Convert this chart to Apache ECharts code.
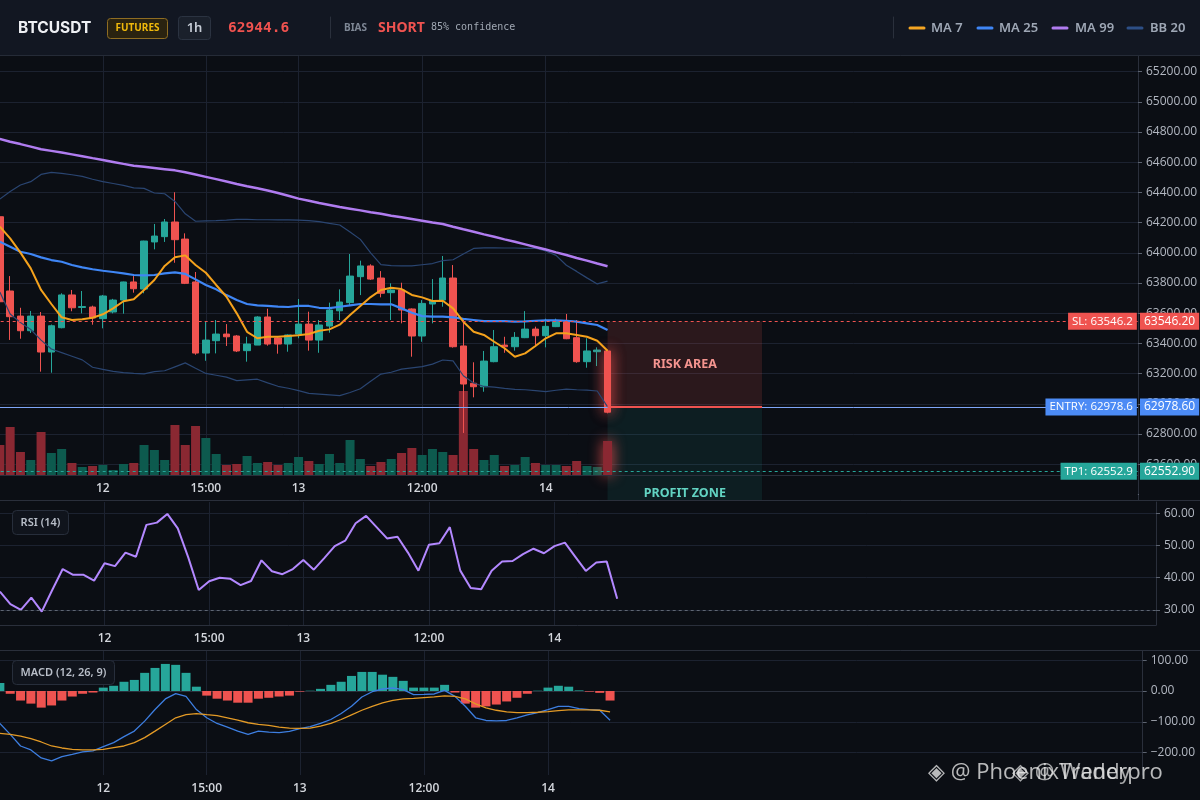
<!DOCTYPE html>
<html><head><meta charset="utf-8">
<script src="https://cdn.jsdelivr.net/npm/echarts@6/dist/echarts.min.js"></script>
<style>html,body{margin:0;padding:0;background:#0b0e14;overflow:hidden}#c{width:1200px;height:800px}</style>
</head><body><div id="c"></div>
<script>
// ---------- header info ----------
const tickerName = 'BTCUSDT';
const marketType = 'FUTURES';
const timeframe = '1h';
const lastPrice = 62944.6;
const biasSide = 'SHORT';
const biasConfidence = 85;

// ---------- x axis ----------
const slotCount = 111;               // visible hourly slots (60 candles + empty right space)
const xTickIndex = [10, 20, 29, 41, 53];
const xTickText = ['12', '15:00', '13', '12:00', '14'];

// ---------- candles ----------
const open  = [64239,63747,63581,63484,63581,63343,63504,63721,63638,63641,63564,63608,63687,63807,63760,64072,64107,64204,64091,63807,63336,63418,63462,63449,63352,63389,63575,63436,63396,63462,63528,63422,63515,63616,63670,63842,63913,63833,63736,63754,63628,63449,63661,63687,63833,63383,63136,63113,63279,63389,63378,63438,63495,63451,63511,63544,63438,63279,63345,63350];
const close = [63676,63577,63484,63581,63343,63517,63721,63636,63644,63568,63714,63687,63807,63762,64078,64111,64204,64087,63798,63336,63422,63462,63444,63350,63396,63575,63396,63396,63456,63528,63422,63522,63621,63674,63846,63913,63826,63732,63754,63621,63449,63665,63683,63833,63378,63131,63113,63283,63378,63378,63440,63495,63451,63513,63544,63431,63279,63350,63356,62944.6];
const low   = [63640,63423,63431,63469,63213,63206,63500,63613,63599,63524,63500,63599,63597,63736,63732,64023,64072,63934,63793,63325,63285,63334,63383,63343,63279,63389,63385,63332,63345,63434,63352,63338,63471,63555,63654,63720,63820,63705,63555,63533,63312,63411,63533,63643,63372,62807,63043,63080,63275,63338,63352,63435,63378,63374,63508,63428,63272,63239,63250,62937];
const high  = [64280,63846,63636,63615,63608,63525,63732,63754,63747,63650,63721,63695,63809,63846,64080,64191,64224,64401,64129,63873,63548,63555,63528,63455,63444,63580,63630,63440,63460,63694,63610,63555,63670,63758,63992,63948,63924,63879,63798,63802,63632,63687,63826,63979,63919,63555,63275,63350,63489,63444,63475,63614,63511,63564,63564,63595,63555,63434,63374,63357];
const volume = [30,48,23,15,43,22,26,12,8,9,10,5,11,12,30,25,15,50,30,49,37,21,10,11,19,12,13,10,12,18,14,11,21,12,35,16,9,13,16,22,27,20,26,23,20,84,26,15,20,9,10,18,12,10,10,9,14,9,8,34];

// ---------- overlays ----------
const ma7  = [64173,64096,64001,63897,63754,63661,63573,63555,63560,63570,63593,63632,63679,63692,63754,63820,63913,63970,63983,63919,63868,63787,63709,63599,63477,63434,63444,63444,63449,63454,63462,63484,63493,63524,63588,63648,63707,63754,63769,63760,63721,63705,63681,63683,63632,63544,63477,63456,63411,63368,63312,63334,63383,63434,63467,63467,63456,63444,63418,63352];
const ma25 = [64073,64040,64007,63992,63970,63952,63941,63919,63904,63891,63881,63873,63864,63853,63851,63853,63864,63871,63860,63824,63787,63758,63720,63687,63661,63652,63648,63643,63641,63648,63648,63636,63634,63643,63652,63661,63661,63659,63659,63632,63603,63581,63577,63577,63573,63562,63555,63548,63548,63548,63544,63546,63550,63553,63553,63550,63544,63533,63522,63489];
const ma99 = [64754,64736,64720,64703,64686,64675,64664,64652,64640,64627,64615,64602,64589,64577,64570,64562,64554,64546,64533,64518,64503,64488,64472,64456,64441,64427,64413,64396,64378,64359,64345,64330,64317,64303,64292,64281,64269,64258,64246,64235,64224,64213,64201,64191,64173,64156,64140,64122,64106,64089,64073,64056,64039,64022,64003,63985,63966,63948,63929,63911];
const bbUpper = [64356,64406,64449,64471,64519,64533,64526,64517,64506,64487,64471,64459,64447,64430,64427,64396,64391,64340,64258,64209,64211,64213,64217,64222,64221,64219,64219,64218,64218,64217,64213,64207,64195,64184,64138,64089,63999,63922,63915,63913,63913,63921,63929,63948,63954,63992,64029,64033,64033,64032,64032,64030,64030,64012,63983,63918,63877,63834,63794,63813];
const bbLower = [63740,63595,63538,63492,63422,63363,63339,63315,63291,63242,63228,63215,63207,63201,63198,63213,63219,63245,63271,63235,63201,63189,63177,63154,63159,63163,63139,63116,63103,63087,63069,63064,63059,63054,63075,63100,63150,63197,63209,63230,63238,63246,63263,63290,63284,63186,63138,63115,63110,63102,63096,63093,63087,63081,63090,63097,63093,63091,63085,62980];

// ---------- trade levels ----------
const stopLoss = 63546.2;
const entryPrice = 62978.6;
const takeProfit1 = 62552.9;
const zoneFromSlot = 59;
const zoneToSlot = 74;

// ---------- RSI ----------
const rsi = [35.7,31.8,30.0,33.8,29.5,36.2,42.7,40.9,40.9,39.1,44.5,43.6,47.8,46.5,56.4,57.1,59.8,55.3,46.3,36.2,38.9,40.0,39.7,37.7,39.0,45.4,42.0,41.1,42.7,45.5,42.5,46.1,49.8,51.5,56.9,59.2,55.7,52.2,52.7,47.8,42.2,50.2,50.7,55.7,42.2,36.8,36.4,42.2,45.0,45.2,47.3,49.0,47.6,49.8,50.9,46.5,42.1,44.7,45.0,33.5];
const rsiOversold = 30;

// ---------- MACD ----------
const macdLine = [-105.5,-141,-178.7,-191.6,-217.4,-227,-213,-205.6,-198,-194.8,-180.7,-167.8,-148.4,-130.3,-98,-60.3,-25.8,-8.7,-17.4,-60.3,-87.1,-105.5,-117.4,-130.3,-141,-130.3,-133.5,-135.5,-131.3,-122.6,-116.1,-105.5,-92.6,-73.2,-49.7,-19.4,-2.3,6.5,9.7,4.2,-11.9,-11,-9.7,1.9,-17.4,-49.7,-87.1,-95.8,-96.8,-95.8,-87.1,-77.4,-70,-60.3,-49.7,-49.7,-57.1,-60.3,-62.6,-94.8];
const macdSignal = [-137.8,-141,-146.4,-154.9,-165.7,-178.7,-185.2,-189.4,-191.6,-191.6,-189.4,-183.9,-178.7,-167.8,-151.6,-130.3,-108.7,-87.1,-76.5,-73.2,-76.5,-79.7,-87.1,-94.8,-103.2,-108.7,-111.9,-117.4,-120.6,-121.6,-120.6,-114.2,-105.5,-92.6,-77.4,-62.6,-49.7,-38.7,-30.3,-25.8,-23.9,-21.6,-19.4,-16.1,-17.4,-25.8,-41.9,-54.8,-62.6,-67.7,-70,-70,-69,-66.8,-63.5,-61.3,-61.3,-61.3,-62.6,-67.7];
const macdHist = [26,-9,-31,-41,-54,-47,-31,-18,-9,-5,11,17,30,36,59,75,88,85,59,14,-15,-25,-31,-38,-38,-25,-22,-18,-15,-2,1,7,20,30,49,62,62,53,46,33,11,11,11,20,-5,-41,-54,-50,-44,-34,-22,-9,1,11,17,14,2,-2,-6,-31];

// ---------- styling ----------
const BG = '#0b0e14', GRID = '#1c2230', BORDER = '#2a2f3b';
const UP = '#26a69a', DOWN = '#ef5350';
const FONT = 'Open Sans';

const cats = Array.from({length: slotCount}, (_, i) => String(i));
const tickLabel = {};
xTickIndex.forEach((idx, k) => { tickLabel[idx] = xTickText[k]; });
const isTick = (i) => tickLabel[i] !== undefined;
const lastIdx = open.length - 1;
const glow = {shadowBlur: 14, shadowColor: 'rgba(239,83,80,0.95)'};

const candleData = open.map((o, i) => {
  const it = {value: [o, close[i], low[i], high[i]]};
  if (i === lastIdx) it.itemStyle = glow;
  return it;
});
const volumeData = volume.map((v, i) => ({
  value: v,
  itemStyle: Object.assign({color: close[i] >= open[i] ? '#0d5a4e' : '#8a2832'}, i === lastIdx ? glow : {})
}));
const histData = macdHist.map(v => ({value: v, itemStyle: {color: v >= 0 ? UP : DOWN}}));

const vSplit = {show: true, interval: (i) => isTick(i), alignWithLabel: true, lineStyle: {color: GRID, width: 1}};
const xLabels = {show: true, interval: 0, formatter: (v, i) => tickLabel[i] || '', color: '#d3d6dc', fontSize: 12, fontWeight: 600, fontFamily: FONT, margin: 8};
function catAxis(gridIndex, extra) {
  return Object.assign({type: 'category', gridIndex, data: cats, boundaryGap: true,
    axisTick: {show: false}, axisLine: {show: false}, axisLabel: {show: false}, splitLine: {show: false}}, extra);
}
const yLabelBase = {color: '#b3b8c2', fontSize: 12, fontFamily: FONT, margin: 8, showMinLabel: false, showMaxLabel: false};
const yTick = {show: true, length: 4, lineStyle: {color: '#5c6370'}};
const yLine = {show: true, lineStyle: {color: BORDER}};
const hSplit = {show: true, showMinLine: false, showMaxLine: false, lineStyle: {color: GRID, width: 1}};

const LEFT = -5.3;
const gridBase = {containLabel: false, outerBoundsMode: 'none'};
const grids = [
  Object.assign({left: LEFT, right: 62, top: 55, bottom: 300}, gridBase),     // price
  Object.assign({left: LEFT, right: 62, top: 55, bottom: 325}, gridBase),     // volume + time labels
  Object.assign({left: LEFT, right: 44, top: 502, bottom: 175}, gridBase),    // RSI
  Object.assign({left: LEFT, right: 57.3, top: 651, bottom: 25}, gridBase)    // MACD
];

function lineSeries(name, data, color, width, extra) {
  return Object.assign({name, type: 'line', xAxisIndex: 0, yAxisIndex: 0, data, symbol: 'none',
    lineStyle: {color, width}, itemStyle: {color}, silent: true, z: 3}, extra || {});
}

function t(text, x, y, font, fill, align) {
  return {type: 'text', x, y, z: 12, silent: true,
    style: {text, font, fill, textAlign: align || 'left', textVerticalAlign: 'middle', align: align || 'left', verticalAlign: 'middle'}};
}
function seg(x1, y1, x2, y2, stroke, w, z) {
  return {type: 'line', z: z || 12, silent: true, shape: {x1, y1, x2, y2}, style: {stroke, lineWidth: w || 1, lineCap: 'round'}};
}

const graphics = [
  // band under main panel (time labels area)
  {type: 'rect', z: 1, silent: true, shape: {x: 0, y: 476, width: 1137.5, height: 24}, style: {fill: BG}},
  {type: 'rect', z: 1, silent: true, shape: {x: 1139, y: 486, width: 7, height: 13}, style: {fill: BG}},
  // header
  {type: 'rect', z: 10, silent: true, shape: {x: 0, y: 0, width: 1200, height: 55}, style: {fill: '#121722'}},
  seg(0, 55.5, 1200, 55.5, '#252b37', 1, 11),
  t(tickerName, 18, 28, 'bold 15.5px Inter', '#eef0f4'),
  {type: 'rect', z: 11, silent: true, shape: {x: 107.5, y: 18.5, width: 60, height: 20, r: 3}, style: {fill: '#2a2310', stroke: '#8f6d22', lineWidth: 1}},
  t(marketType, 137.5, 28.5, 'bold 10px "Noto Sans"', '#f0b90b', 'center'),
  {type: 'rect', z: 11, silent: true, shape: {x: 178.5, y: 16.5, width: 32, height: 23, r: 3}, style: {fill: '#1a202b', stroke: '#2b3341', lineWidth: 1}},
  t(timeframe, 194.5, 28, '600 13px "Noto Sans"', '#c6ccd6', 'center'),
  t(lastPrice.toFixed(1), 228, 28, 'bold 14.5px "DejaVu Sans Mono"', '#f0524f'),
  seg(330.5, 17, 330.5, 38, '#2a303c', 1),
  t('BIAS', 344, 28.5, 'bold 10px "Noto Sans"', '#7e8795'),
  t(biasSide, 378, 28, 'bold 14px "Noto Sans"', '#ef5350'),
  t(biasConfidence + '% confidence', 431, 27.5, '10px "DejaVu Sans Mono"', '#a0a8b3'),
  seg(893.5, 17, 893.5, 38, '#2a303c', 1),
  seg(910, 28, 924, 28, '#f5a623', 3), t('MA 7', 931, 28, '600 13px "Noto Sans"', '#9ea7b5'),
  seg(978, 28, 992, 28, '#3f86f5', 3), t('MA 25', 999, 28, '600 13px "Noto Sans"', '#9ea7b5'),
  seg(1053, 28, 1067, 28, '#b07cf0', 3), t('MA 99', 1075, 28, '600 13px "Noto Sans"', '#9ea7b5'),
  seg(1128, 28, 1142, 28, '#2d4f86', 3), t('BB 20', 1150, 28, '600 13px "Noto Sans"', '#9ea7b5'),
  // panel separators
  seg(0, 500.5, 1200, 500.5, BORDER, 1, 5),
  seg(0, 650.5, 1200, 650.5, BORDER, 1, 5),
  // indicator captions
  {type: 'rect', z: 12, silent: true, shape: {x: 12.5, y: 510.5, width: 56, height: 24, r: 4}, style: {fill: '#10141c', stroke: '#272e3b', lineWidth: 1}},
  t('RSI (14)', 40.5, 523, '600 11px "Noto Sans"', '#b9bfc9', 'center'),
  {type: 'rect', z: 12, silent: true, shape: {x: 12.5, y: 660.5, width: 102, height: 24, r: 4}, style: {fill: '#10141c', stroke: '#272e3b', lineWidth: 1}},
  t('MACD (12, 26, 9)', 63.5, 673, '600 11px "Noto Sans"', '#b9bfc9', 'center'),
  // watermark
  t('◈ @ PhoenixTraderpro', 928, 773, '22px "Open Sans"', 'rgba(235,235,235,0.78)'),
  t('◈ @ Wendy', 1012, 773, '22px "Open Sans"', 'rgba(235,235,235,0.7)')
];

const badgeLabel = {show: true, position: 'left', distance: 0, offset: [4.5, 0], formatter: '{b}', color: '#ffffff',
  fontSize: 11.5, fontFamily: FONT, padding: [3, 4, 2, 4]};
const axisBadge = (bg, v) => ({show: true, position: 'end', distance: 2, formatter: () => v.toFixed(2), color: '#ffffff',
  backgroundColor: bg, fontSize: 12, fontFamily: FONT, padding: [3, 4, 2, 4]});

const option = {
  backgroundColor: BG,
  animation: false,
  textStyle: {fontFamily: FONT},
  grid: grids,
  xAxis: [
    catAxis(0, {show: false}),
    catAxis(1, {position: 'bottom', z: 3, axisLine: {show: true, lineStyle: {color: BORDER}}, axisLabel: xLabels}),
    catAxis(1, {position: 'top', splitLine: vSplit}),
    catAxis(2, {position: 'bottom', axisLine: {show: true, lineStyle: {color: BORDER}}, axisLabel: xLabels, splitLine: vSplit}),
    catAxis(3, {position: 'bottom', axisLine: {show: true, lineStyle: {color: BORDER}}, axisLabel: xLabels, splitLine: vSplit})
  ],
  yAxis: [
    {type: 'value', gridIndex: 0, position: 'right', min: 62363, max: 65310, minInterval: 200, maxInterval: 200, scale: true,
      axisLine: yLine, axisTick: yTick, splitLine: hSplit,
      axisLabel: Object.assign({}, yLabelBase, {formatter: v => (Math.abs(v % 200) < 1e-6 && v >= 62600 && v <= 65200) ? v.toFixed(2) : ''})},
    {type: 'value', gridIndex: 1, show: false, min: 0, max: 420},
    {type: 'value', gridIndex: 2, position: 'right', min: 25.33, max: 63.5, minInterval: 10, maxInterval: 10, scale: true,
      axisLine: yLine, axisTick: yTick, splitLine: hSplit,
      axisLabel: Object.assign({}, yLabelBase, {formatter: v => (Math.abs(v % 10) < 1e-6) ? v.toFixed(2) : ''})},
    {type: 'value', gridIndex: 3, position: 'right', min: -273, max: 130, minInterval: 100, maxInterval: 100, scale: true,
      axisLine: yLine, axisTick: yTick, splitLine: hSplit,
      axisLabel: Object.assign({}, yLabelBase, {formatter: v => (Math.abs(v % 100) < 1e-6) ? (v < 0 ? '\u2212' + Math.abs(v).toFixed(2) : v.toFixed(2)) : ''})}
  ],
  graphic: {elements: graphics},
  series: [
    {name: 'Volume', type: 'bar', xAxisIndex: 1, yAxisIndex: 1, data: volumeData, barWidth: 9, silent: true, z: 2},
    {name: 'BTCUSDT', type: 'candlestick', xAxisIndex: 0, yAxisIndex: 0, data: candleData, barWidth: 7, silent: true, z: 2,
      itemStyle: {color: UP, color0: DOWN, borderColor: UP, borderColor0: DOWN, borderWidth: 1},
      markArea: {silent: true, data: [
        [{xAxis: zoneFromSlot, yAxis: stopLoss, itemStyle: {color: 'rgba(239,83,80,0.14)'},
          label: {show: true, position: 'inside', formatter: 'RISK AREA', color: '#f4948f', fontWeight: 'bold', fontSize: 12.5, fontFamily: '"Noto Sans"'}},
         {xAxis: zoneToSlot, yAxis: entryPrice}],
        [{xAxis: zoneFromSlot, yAxis: entryPrice, itemStyle: {color: 'rgba(38,166,154,0.11)'},
          label: {show: true, position: 'insideBottom', distance: 0, formatter: 'PROFIT ZONE', color: '#62d3c2', fontWeight: 'bold', fontSize: 12.5, fontFamily: '"Noto Sans"'}},
         {xAxis: zoneToSlot, yAxis: 62363}]
      ]},
      markLine: {silent: true, symbol: ['none', 'none'], data: [
        {yAxis: stopLoss, lineStyle: {color: DOWN, type: [3, 3], width: 1}, label: axisBadge(DOWN, stopLoss)},
        {yAxis: entryPrice, lineStyle: {color: '#7ea6f8', type: 'solid', width: 1}, label: axisBadge('#4c8bf5', entryPrice)},
        {yAxis: takeProfit1, lineStyle: {color: UP, type: [3, 3], width: 1}, label: axisBadge(UP, takeProfit1)},
        [{coord: [zoneFromSlot, entryPrice], lineStyle: {color: DOWN, width: 2, type: 'solid'}, label: {show: false}},
         {coord: [zoneToSlot, entryPrice]}]
      ]},
      markPoint: {silent: true, symbol: 'circle', symbolSize: 1, itemStyle: {color: 'rgba(0,0,0,0)'}, label: badgeLabel, data: [
        {name: 'SL: ' + stopLoss.toFixed(1), coord: [slotCount - 1, stopLoss], label: {backgroundColor: DOWN}},
        {name: 'ENTRY: ' + entryPrice.toFixed(1), coord: [slotCount - 1, entryPrice], label: {backgroundColor: '#4c8bf5'}},
        {name: 'TP1: ' + takeProfit1.toFixed(1), coord: [slotCount - 1, takeProfit1], label: {backgroundColor: UP}}
      ]}
    },
    lineSeries('BB 20 upper', bbUpper, '#2a4571', 1.2),
    lineSeries('BB 20 lower', bbLower, '#2a4571', 1.2),
    lineSeries('MA 99', ma99, '#b07cf0', 2.5),
    lineSeries('MA 25', ma25, '#3f86f5', 2.2),
    lineSeries('MA 7', ma7, '#f5a21c', 2),
    {name: 'RSI', type: 'line', xAxisIndex: 3, yAxisIndex: 2, data: rsi, symbol: 'none', silent: true,
      lineStyle: {color: '#b388ff', width: 2},
      markLine: {silent: true, symbol: ['none', 'none'], label: {show: false},
        data: [{yAxis: rsiOversold, lineStyle: {color: '#5f6673', type: [3, 3], width: 1}}]}},
    {name: 'MACD Hist', type: 'bar', xAxisIndex: 4, yAxisIndex: 3, data: histData, barWidth: 9, silent: true},
    {name: 'MACD', type: 'line', xAxisIndex: 4, yAxisIndex: 3, data: macdLine, symbol: 'none', silent: true, lineStyle: {color: '#3d7ee0', width: 1.3}},
    {name: 'Signal', type: 'line', xAxisIndex: 4, yAxisIndex: 3, data: macdSignal, symbol: 'none', silent: true, lineStyle: {color: '#e39a26', width: 1.3}}
  ]
};

const chart = echarts.init(document.getElementById('c'), null, {renderer: 'canvas'});
chart.setOption(option);
</script>
</body></html>
